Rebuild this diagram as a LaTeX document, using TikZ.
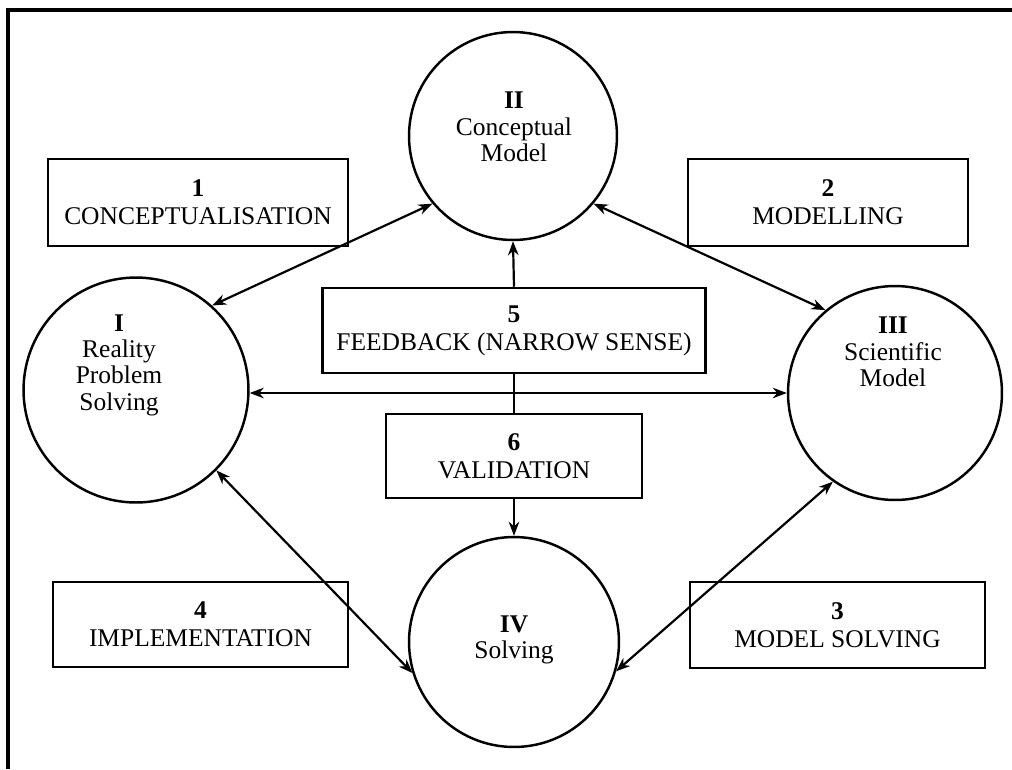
\documentclass[tikz,border=0pt]{standalone}
\usepackage{fontspec}
\setmainfont{Liberation Serif}
\usetikzlibrary{arrows.meta}
\begin{document}
\begin{tikzpicture}[x=0.02cm,y=-0.02cm,
  box/.style={draw, line width=1.45pt, align=center, inner sep=0pt, font=\fontsize{14.5}{16}\selectfont},
  cnode/.style={circle, draw, line width=1.4pt, inner sep=0pt},
  ctext/.style={align=center, font=\fontsize{14.5}{15}\selectfont},
  conn/.style={line width=1.25pt, {Stealth[length=8pt,width=6pt]}-{Stealth[length=8pt,width=6pt]}},
  oneway/.style={line width=1.25pt, -{Stealth[length=8pt,width=6pt]}},
  plain/.style={line width=1.25pt}]
\useasboundingbox (0,0) rectangle (1012,769);
% frame (top and left only)
\draw[line width=1.8pt] (1012,10) -- (8,10) -- (8,769);
% circles
\node[cnode, minimum size=4.16cm] (II) at (513,136) {};
\node[cnode, minimum size=4.5cm] (I) at (136,390) {};
\node[cnode, minimum size=4.28cm] (III) at (895,393) {};
\node[cnode, minimum size=4.2cm] (IV) at (514,642) {};
% circle texts
\node[ctext] (tII) at (514,127) {\textbf{II}\\Conceptual\\Model};
\node[ctext] (tI) at (119,365) {\textbf{I}\\Reality\\Problem\\Solving};
\node[ctext] (tIII) at (893,352) {\textbf{III}\\Scientific\\Model};
\node[ctext] (tIV) at (514,640) {\textbf{IV}\\Solving};
% boxes
\node[box, minimum width=6cm, minimum height=1.74cm] (b1) at (198,202.5) {\textbf{1}\\CONCEPTUALISATION};
\node[box, minimum width=5.6cm, minimum height=1.74cm] (b2) at (828,202.5) {\textbf{2}\\MODELLING};
\node[box, minimum width=5.9cm, minimum height=1.7cm] (b4) at (200.5,624.5) {\textbf{4}\\IMPLEMENTATION};
\node[box, minimum width=5.9cm, minimum height=1.72cm] (b3) at (837.5,625) {\textbf{3}\\MODEL SOLVING};
\node[box, minimum width=7.66cm, minimum height=1.7cm] (b5) at (514,330.5) {\textbf{5}\\FEEDBACK (NARROW SENSE)};
\node[box, minimum width=5.12cm, minimum height=1.68cm] (b6) at (514,456) {\textbf{6}\\VALIDATION};
% connectors
\draw[conn] (I.48) -- (II.220);
\draw[conn] (II.-40) -- (III.130);
\draw[conn] (III.-125) -- (IV.-16);
\draw[conn] (I.-45) -- (IV.-163);
\draw[conn] (I.east |- 0,393) -- (III.west |- 0,393);
\draw[oneway] (b5.north) -- (II.south);
\draw[plain] (b5.south) -- (b6.north);
\draw[oneway] (b6.south) -- (IV.north);
\end{tikzpicture}
\end{document}
